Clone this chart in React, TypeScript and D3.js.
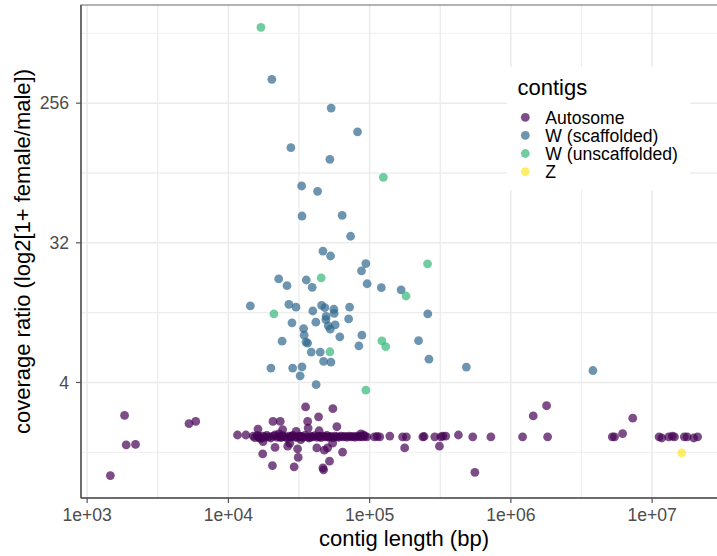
import * as d3 from "d3";

// contig length (bp), coverage ratio
const autosome: [number, number][] = [
  [1460, 1.0], [1840, 2.45], [1890, 1.58], [2200, 1.59], [5260, 2.17], [5870, 2.24],
  [11600, 1.83], [13300, 1.83], [16200, 2.0], [16500, 1.75], [17600, 1.66], [20700, 2.24],
  [23300, 2.24], [24200, 1.98], [22800, 1.86], [27200, 1.62], [30200, 1.93], [32600, 1.71],
  [35200, 2.78], [54900, 2.71], [43500, 2.4], [58600, 2.07], [36400, 2.24], [36700, 2.03],
  [43900, 1.95], [86600, 1.86],
  [17500, 1.38], [21400, 1.52], [26300, 1.55], [30900, 1.49], [31200, 1.31], [20500, 1.16],
  [29200, 1.14], [42300, 1.51], [54700, 1.62], [64300, 1.42], [50400, 1.51], [47800, 1.46],
  [52000, 1.24], [47200, 1.09], [46700, 1.12],
  // the dense band
  [15000, 1.8], [15400, 1.76], [16000, 1.82], [16500, 1.79], [17000, 1.74], [17600, 1.8],
  [18200, 1.77], [18700, 1.82], [19300, 1.78], [20000, 1.75], [20700, 1.8], [21400, 1.83],
  [22100, 1.77], [22800, 1.79], [23500, 1.76], [24300, 1.81], [25100, 1.78], [26000, 1.75],
  [26800, 1.8], [27700, 1.77], [28600, 1.82], [29600, 1.78], [30600, 1.76], [31600, 1.8],
  [32600, 1.79], [33700, 1.77], [34800, 1.82], [36000, 1.78], [37200, 1.75], [38400, 1.8],
  [39600, 1.78], [40900, 1.81], [42300, 1.77], [43700, 1.79], [45200, 1.76], [46700, 1.8],
  [48200, 1.78], [49800, 1.82], [51500, 1.77], [53200, 1.79], [55000, 1.76], [56800, 1.8],
  [58600, 1.78], [60500, 1.77], [62500, 1.8], [64600, 1.78], [66800, 1.79], [69000, 1.77],
  [71300, 1.8], [73600, 1.78], [76100, 1.79], [78600, 1.77], [81200, 1.8], [83900, 1.78],
  [86700, 1.79], [89500, 1.78], [92500, 1.8], [95600, 1.78],
  [24000, 1.78], [28000, 1.79], [33000, 1.78], [38000, 1.77], [44000, 1.79], [50500, 1.78],
  // right of 1e5
  [90600, 1.83], [108000, 1.78], [113000, 1.79], [118000, 1.78], [139000, 1.8], [171000, 1.78],
  [182000, 1.78], [177000, 1.51], [238000, 1.78], [243000, 1.79], [289000, 1.78], [319000, 1.78],
  [330000, 1.8], [346000, 1.8], [312000, 1.55], [425000, 1.83], [537000, 1.78], [556000, 1.05],
  [722000, 1.78], [1210000, 1.78], [1440000, 2.43], [1790000, 2.83], [1820000, 1.78],
  [5220000, 1.78], [5420000, 1.78], [6180000, 1.87], [7290000, 2.35],
  [11200000, 1.78], [11700000, 1.75], [13100000, 1.78], [13900000, 1.8], [14400000, 1.78],
  [16900000, 1.78], [17700000, 1.78], [19700000, 1.75], [21000000, 1.78],
];

const wScaffolded: [number, number][] = [
  [20300, 365], [53400, 238], [82100, 167], [27700, 132], [52300, 111], [33000, 74.6],
  [42800, 68.9], [33200, 47.7], [63900, 48.2], [73300, 35.3], [46700, 28.3], [52900, 26.3],
  [94000, 23.5], [87600, 21.1], [22700, 18.7], [35600, 18.4], [26000, 16.9], [39200, 16.5],
  [96000, 17.4], [121000, 16.4], [14300, 12.5], [26800, 12.8], [30100, 12.3], [39600, 11.6],
  [45700, 12.6], [48200, 12.2], [55800, 11.9], [56100, 11.2], [72100, 12.3], [71000, 10.3],
  [49200, 10.7], [49000, 10.2], [41600, 9.82], [28200, 9.72], [50900, 9.3], [52600, 8.85],
  [57000, 9.44], [34100, 8.93], [34400, 8.09], [61500, 7.9], [24000, 7.4], [35400, 7.3],
  [36400, 7.19], [88100, 8.09], [83900, 6.9], [38600, 6.29], [44700, 6.29], [47200, 5.47],
  [53200, 5.42], [20000, 4.96], [28500, 4.96], [33200, 5.05], [32200, 4.42], [41800, 3.87],
  [167000, 15.9], [258000, 11.1], [222000, 7.47], [263000, 5.66], [484000, 5.03], [3810000, 4.78],
];

const wUnscaffolded: [number, number][] = [
  [17000, 791], [125000, 84.9], [45400, 19.0], [21000, 11.1], [122000, 7.44], [130000, 6.83],
  [52300, 6.32], [94000, 3.57], [257000, 23.4], [181000, 14.5],
];

const zContigs: [number, number][] = [[16200000, 1.4]];

const groupNames = ["Autosome", "W (scaffolded)", "W (unscaffolded)", "Z"];
const groupColors = ["#440154", "#31688E", "#35B779", "#FDE725"];
const groups = [autosome, wScaffolded, wUnscaffolded, zContigs];

const xTicks = [1e3, 1e4, 1e5, 1e6, 1e7];
const xTickLabels = ["1e+03", "1e+04", "1e+05", "1e+06", "1e+07"];
const yTicks = [4, 32, 256];

const W = 717, H = 556;
const left = 81, right = 727, top = 5, bottom = 498;
const font = "'Liberation Sans', Arial, Helvetica, sans-serif";

// ggplot-style 5% expansion in log space
function expand(vals: number[], base: number) {
  const lg = vals.map((v) => Math.log(v) / Math.log(base));
  const [lo, hi] = d3.extent(lg) as [number, number];
  const pad = (hi - lo) * 0.05;
  return [Math.pow(base, lo - pad), Math.pow(base, hi + pad)];
}

export default function App() {
  const all = groups.flat();
  const x = d3.scaleLog().domain(expand(all.map((d) => d[0]), 10)).range([left, right]);
  const y = d3.scaleLog().base(2).domain(expand(all.map((d) => d[1]), 2)).range([bottom, top]);

  const [x0, x1] = x.domain();
  const [y0, y1] = y.domain();
  const xMinor = xTicks.flatMap((t) => [t / Math.sqrt(10), t * Math.sqrt(10)])
    .filter((v, i, a) => a.indexOf(v) === i && v > x0 && v < x1);
  const yMinor = yTicks.flatMap((t) => [t / Math.sqrt(8), t * Math.sqrt(8)])
    .filter((v) => v > y0 && v < y1);

  const grid = "#ebebeb";
  const tickCol = "#4d4d4d";

  return (
    <svg width={W} height={H} style={{ position: "absolute", left: 0, top: 0 }} fontFamily={font}>
      <rect x={0} y={0} width={W} height={H} fill="white" />
      <g>
        {xMinor.map((v, i) => (
          <line key={"xm" + i} x1={x(v)} x2={x(v)} y1={top} y2={bottom} stroke={grid} strokeWidth={0.8} />
        ))}
        {yMinor.map((v, i) => (
          <line key={"ym" + i} x1={left} x2={right} y1={y(v)} y2={y(v)} stroke={grid} strokeWidth={0.8} />
        ))}
        {xTicks.map((v, i) => (
          <line key={"xg" + i} x1={x(v)} x2={x(v)} y1={top} y2={bottom} stroke={grid} strokeWidth={1.5} />
        ))}
        {yTicks.map((v, i) => (
          <line key={"yg" + i} x1={left} x2={right} y1={y(v)} y2={y(v)} stroke={grid} strokeWidth={1.5} />
        ))}
      </g>
      <g>
        {groups.map((g, gi) =>
          g.map((d, i) => (
            <circle key={gi + "-" + i} cx={x(d[0])} cy={y(d[1])} r={4.4}
              fill={groupColors[gi]} fillOpacity={0.7} />
          ))
        )}
      </g>
      <rect x={left} y={top} width={right - left} height={bottom - top} fill="none" stroke="#666" strokeWidth={1} />
      <line x1={left} x2={left} y1={top} y2={bottom} stroke="#555" strokeWidth={1.5} />
      <line x1={left} x2={right} y1={bottom} y2={bottom} stroke="#555" strokeWidth={1.5} />

      {/* x axis */}
      {xTicks.map((v, i) => (
        <g key={"xt" + i}>
          <line x1={x(v)} x2={x(v)} y1={bottom} y2={bottom + 5} stroke="#555" strokeWidth={1.2} />
          <text x={x(v)} y={521} textAnchor="middle" fontSize={17.6} fill={tickCol}>{xTickLabels[i]}</text>
        </g>
      ))}
      {/* y axis */}
      {yTicks.map((v, i) => (
        <g key={"yt" + i}>
          <line x1={left - 5} x2={left} y1={y(v)} y2={y(v)} stroke="#555" strokeWidth={1.2} />
          <text x={69} y={y(v) + 6.2} textAnchor="end" fontSize={17.6} fill={tickCol}>{v}</text>
        </g>
      ))}
      <text x={(left + right) / 2} y={546} textAnchor="middle" fontSize={22} fill="black">contig length (bp)</text>
      <text transform={`translate(30,${(top + bottom) / 2}) rotate(-90)`} textAnchor="middle" fontSize={22} fill="black">
        coverage ratio (log2[1+ female/male])
      </text>

      {/* legend */}
      <g>
        <rect x={507} y={67} width={183} height={123} fill="white" />
        <text x={517.5} y={94.5} fontSize={22} fill="black">contigs</text>
        {groupNames.map((n, i) => (
          <g key={"lg" + i} transform={`translate(0,${117.3 + i * 18.1})`}>
            <circle cx={525.3} cy={0} r={4.4} fill={groupColors[i]} fillOpacity={0.7} />
            <text x={545.3} y={6.2} fontSize={17.6} fill="black">{n}</text>
          </g>
        ))}
      </g>
    </svg>
  );
}
